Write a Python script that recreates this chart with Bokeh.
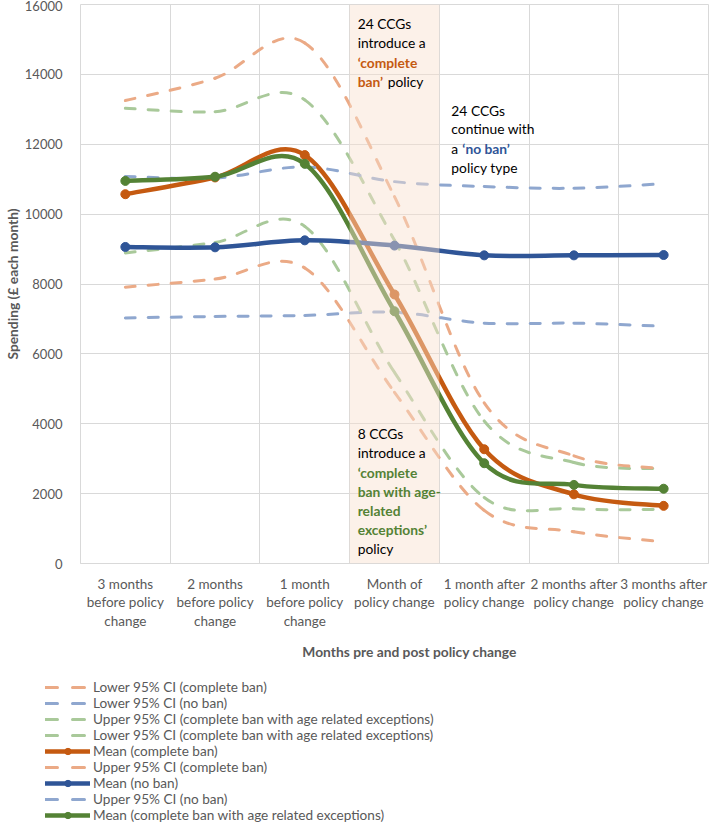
from bokeh.plotting import figure
from bokeh.layouts import column
from bokeh.models import (ColumnDataSource, FixedTicker, SingleIntervalTicker,
                          BoxAnnotation, Label, Legend, LegendItem, Range1d)
from bokeh.embed import file_html
from bokeh.resources import INLINE

# ---------------- data ----------------
categories = [
    "3 months\nbefore policy\nchange",
    "2 months\nbefore policy\nchange",
    "1 month\nbefore policy\nchange",
    "Month of\npolicy change",
    "1 month after\npolicy change",
    "2 months after\npolicy change",
    "3 months after\npolicy change",
]
policy_change_category = "Month of\npolicy change"
x_title = "Months pre and post policy change"
y_title = "Spending (£ each month)"

lower_complete = [7910, 8140, 8460, 4900, 1520, 910, 620]
lower_noban = [7030, 7070, 7100, 7190, 6880, 6880, 6790]
upper_age = [13030, 12930, 13270, 9250, 4080, 2890, 2710]
lower_age = [8890, 9190, 9650, 5470, 1890, 1570, 1550]
mean_complete = [10570, 11050, 11690, 7700, 3270, 1980, 1650]
upper_complete = [13250, 13890, 14900, 10500, 4600, 3080, 2710]
mean_noban = [9060, 9050, 9250, 9100, 8820, 8820, 8830]
upper_noban = [11080, 11030, 11350, 10930, 10790, 10740, 10870]
mean_age = [10950, 11070, 11440, 7220, 2870, 2250, 2140]

y_ticks_step = 2000
y_max = 16000

FONT = "Lato"
GRID = "#D9D9D9"
TXT = "#595959"
ORANGE = "#C55A11"
BLUE = "#2F5597"
GREEN = "#548235"
ORANGE_CI = "#EBAA86"
BLUE_CI = "#8FA7CF"
GREEN_CI = "#A9C99A"

series = [
    ("Lower 95% CI (complete ban)", lower_complete, "ci", ORANGE_CI),
    ("Lower 95% CI (no ban)", lower_noban, "ci", BLUE_CI),
    ("Upper 95% CI (complete ban with age related exceptions)", upper_age, "ci", GREEN_CI),
    ("Lower 95% CI (complete ban with age related exceptions)", lower_age, "ci", GREEN_CI),
    ("Mean (complete ban)", mean_complete, "mean", ORANGE),
    ("Upper 95% CI (complete ban)", upper_complete, "ci", ORANGE_CI),
    ("Mean (no ban)", mean_noban, "mean", BLUE),
    ("Upper 95% CI (no ban)", upper_noban, "ci", BLUE_CI),
    ("Mean (complete ban with age related exceptions)", mean_age, "mean", GREEN),
]

xs = list(range(len(categories)))

CI_STYLE = dict(line_width=3, line_dash="10 13", line_cap="round")
CI_LEG_STYLE = dict(line_width=3, line_dash="12 15", line_cap="round")
MEAN_STYLE = dict(line_width=4.5, line_cap="round")


def smooth_segments(vals):
    """Cubic Bezier segments through the points (Excel-style smoothed line)."""
    n = len(vals)
    d = dict(x0=[], y0=[], x1=[], y1=[], cx0=[], cy0=[], cx1=[], cy1=[])
    for i in range(n - 1):
        a = max(i - 1, 0)
        b = min(i + 2, n - 1)
        d["x0"].append(xs[i]); d["y0"].append(vals[i])
        d["x1"].append(xs[i + 1]); d["y1"].append(vals[i + 1])
        d["cx0"].append(xs[i] + (xs[i + 1] - xs[a]) / 6.0)
        d["cy0"].append(vals[i] + (vals[i + 1] - vals[a]) / 6.0)
        d["cx1"].append(xs[i + 1] - (xs[b] - xs[i]) / 6.0)
        d["cy1"].append(vals[i + 1] - (vals[b] - vals[i]) / 6.0)
    return ColumnDataSource(d)


BEZ = dict(x0="x0", y0="y0", x1="x1", y1="y1", cx0="cx0", cy0="cy0",
           cx1="cx1", cy1="cy1")

P_HEIGHT = 631
W = 709
H = 822

# ---------------- main figure ----------------
p = figure(width=W, height=P_HEIGHT, x_range=(-0.5, len(categories) - 0.5),
           y_range=(0, y_max), output_backend="svg", toolbar_location=None,
           min_border_left=79, min_border_right=1, min_border_top=4,
           min_border_bottom=0)
p.background_fill_color = "white"
p.border_fill_color = "white"
p.outline_line_color = GRID

p.xaxis.ticker = FixedTicker(ticks=xs)
p.xaxis.major_label_overrides = {i: c for i, c in zip(xs, categories)}
p.xaxis.major_label_text_font = FONT
p.xaxis.major_label_text_font_size = "13.5px"
p.xaxis.major_label_text_color = TXT
p.xaxis.major_label_text_line_height = 1.16
p.xaxis.major_label_standoff = 12
p.xaxis.major_tick_line_color = None
p.xaxis.minor_tick_line_color = None
p.xaxis.major_tick_out = 0
p.xaxis.major_tick_in = 0
p.xaxis.axis_line_color = GRID

p.yaxis.ticker = SingleIntervalTicker(interval=y_ticks_step)
p.yaxis.major_label_text_font = FONT
p.yaxis.major_label_text_font_size = "13px"
p.yaxis.major_label_text_color = TXT
p.yaxis.major_label_standoff = 14
p.yaxis.major_tick_line_color = None
p.yaxis.minor_tick_line_color = None
p.yaxis.major_tick_out = 0
p.yaxis.major_tick_in = 0
p.yaxis.axis_line_color = None
p.yaxis.axis_label = y_title
p.yaxis.axis_label_text_font = FONT
p.yaxis.axis_label_text_font_style = "bold"
p.yaxis.axis_label_text_font_size = "13.8px"
p.yaxis.axis_label_text_color = TXT
p.yaxis.axis_label_standoff = 1

p.xgrid.ticker = FixedTicker(ticks=[i - 0.5 for i in range(len(categories) + 1)])
p.xgrid.grid_line_color = GRID
p.ygrid.grid_line_color = GRID

# ---------------- lower figure: x title + legend (pixel-unit ranges) ----------------
PL_H = H - P_HEIGHT
pl = figure(width=W, height=PL_H, output_backend="svg", toolbar_location=None,
            min_border=0, x_range=Range1d(0, W), y_range=Range1d(0, PL_H))
pl.xaxis.visible = False
pl.yaxis.visible = False
pl.grid.visible = False
pl.outline_line_color = None
pl.background_fill_color = "white"
pl.border_fill_color = "white"
frame_aligned = True
try:
    pl.frame_align = False
    p.frame_align = False
    frame_aligned = False
except Exception:
    pass

# x-axis title, centred where the reference puts it
pl.add_layout(Label(x=409, y=PL_H - (651 - P_HEIGHT), text=x_title,
                    text_font=FONT, text_font_style="bold",
                    text_font_size="13.8px", text_color=TXT,
                    text_align="center", text_baseline="middle"))

# ---------------- series ----------------
items = []
for name, vals, kind, color in series:
    src = smooth_segments(vals)
    if kind == "ci":
        p.bezier(source=src, line_color=color, **BEZ, **CI_STYLE)
        # legend proxy (its data lies outside this figure's visible range)
        lr = pl.line(x=xs, y=vals, line_color=color, **CI_LEG_STYLE)
        items.append(LegendItem(label=name, renderers=[lr]))
    else:
        p.bezier(source=src, line_color=color, **BEZ, **MEAN_STYLE)
        p.scatter(x=xs, y=vals, size=9, marker="circle", fill_color=color,
                  line_color=color)
        lr = pl.line(x=xs, y=vals, line_color=color, **MEAN_STYLE)
        lm = pl.scatter(x=xs, y=vals, size=9, marker="circle",
                        fill_color=color, line_color=color)
        items.append(LegendItem(label=name, renderers=[lr, lm]))

# ---------------- highlighted band (month of policy change) ----------------
ci = categories.index(policy_change_category)
p.add_layout(BoxAnnotation(left=ci - 0.5, right=ci + 0.5, bottom=0, top=y_max,
                           fill_color="#F8E1CE", fill_alpha=0.45,
                           line_color=None))

# ---------------- text annotations ----------------
def lab(x, y, text, off, color="black", bold=False):
    p.add_layout(Label(x=x, y=y, x_offset=off, text=text, text_font=FONT,
                       text_font_size="13.8px", text_color=color,
                       text_font_style="bold" if bold else "normal",
                       text_baseline="middle", text_align="left"))

left_edge = ci - 0.5
right_edge = ci + 0.5
lab(left_edge, 15457, "24 CCGs", 8)
lab(left_edge, 14903, "introduce a", 8)
lab(left_edge, 14343, "\u2018complete", 8, ORANGE, True)
lab(left_edge, 13789, "ban\u2019", 8, ORANGE, True)
lab(left_edge, 13789, "policy", 38)

lab(right_edge, 12980, "24 CCGs", 12)
lab(right_edge, 12437, "continue with", 12)
lab(right_edge, 11886, "a", 12)
lab(right_edge, 11886, "\u2018no ban\u2019", 23, BLUE, True)
lab(right_edge, 11343, "policy type", 12)

lab(left_edge, 3723, "8 CCGs", 8)
lab(left_edge, 3171, "introduce a", 8)
lab(left_edge, 2617, "\u2018complete", 8, GREEN, True)
lab(left_edge, 2057, "ban with age-", 8, GREEN, True)
lab(left_edge, 1523, "related", 8, GREEN, True)
lab(left_edge, 960, "exceptions\u2019", 8, GREEN, True)
lab(left_edge, 429, "policy", 8)

legend = Legend(items=items, location=(-34 if frame_aligned else 45, -1),
                orientation="vertical",
                glyph_width=45, glyph_height=16, label_height=16, spacing=0,
                padding=0, margin=0, border_line_color=None,
                background_fill_alpha=0, label_text_font=FONT,
                label_text_font_size="13.6px", label_text_color=TXT,
                label_standoff=3)
pl.add_layout(legend, "center")

layout = column(p, pl, spacing=0)
open("out.html", "w").write(file_html(layout, INLINE))
